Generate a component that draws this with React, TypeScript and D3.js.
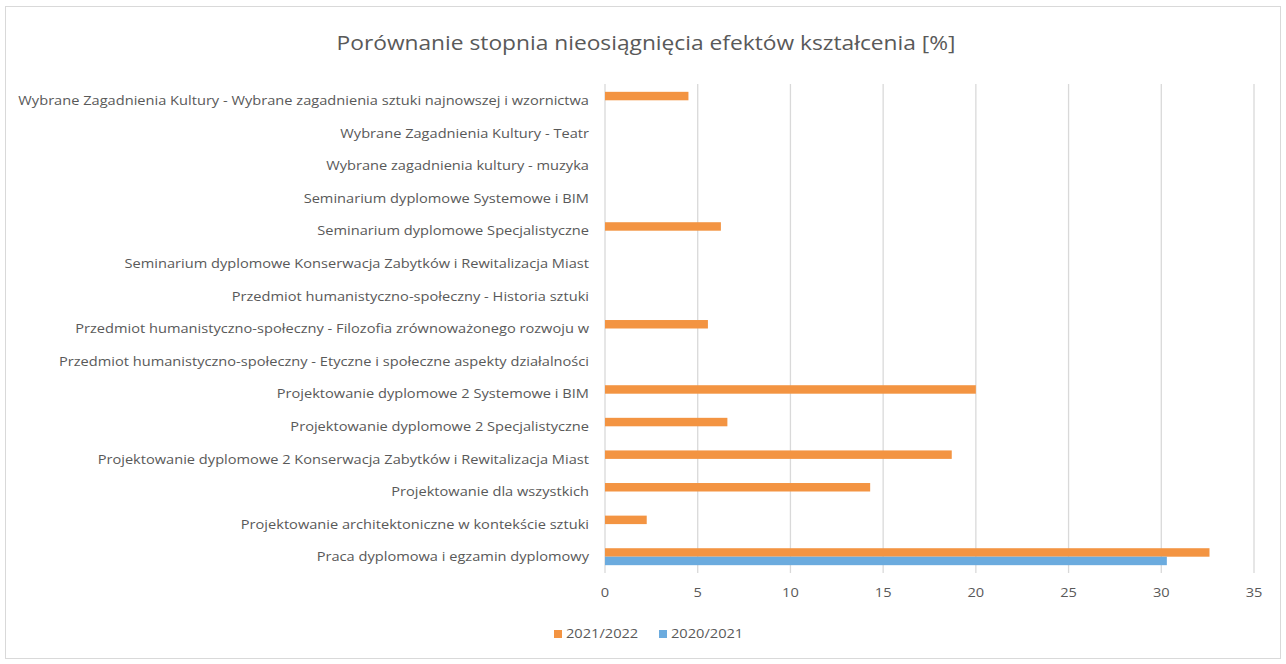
import React from "react";
import * as d3 from "d3";

const categories = [
  "Wybrane Zagadnienia Kultury - Wybrane zagadnienia sztuki najnowszej i wzornictwa",
  "Wybrane Zagadnienia Kultury - Teatr",
  "Wybrane zagadnienia kultury - muzyka",
  "Seminarium dyplomowe Systemowe i BIM",
  "Seminarium dyplomowe Specjalistyczne",
  "Seminarium dyplomowe Konserwacja Zabytków i Rewitalizacja Miast",
  "Przedmiot humanistyczno-społeczny - Historia sztuki",
  "Przedmiot humanistyczno-społeczny - Filozofia zrównoważonego rozwoju w",
  "Przedmiot humanistyczno-społeczny - Etyczne i społeczne aspekty działalności",
  "Projektowanie dyplomowe 2 Systemowe i BIM",
  "Projektowanie dyplomowe 2 Specjalistyczne",
  "Projektowanie dyplomowe 2 Konserwacja Zabytków i Rewitalizacja Miast",
  "Projektowanie dla wszystkich",
  "Projektowanie architektoniczne w kontekście sztuki",
  "Praca dyplomowa i egzamin dyplomowy",
];

const series = ["2021/2022", "2020/2021"];
const values2122 = [4.5, 0, 0, 0, 6.25, 0, 0, 5.55, 0, 20, 6.6, 18.7, 14.3, 2.25, 32.6];
const values2021 = [0, 0, 0, 0, 0, 0, 0, 0, 0, 0, 0, 0, 0, 0, 30.3];
const colors = ["#F39442", "#6BABDE"];
const xTicks = [0, 5, 10, 15, 20, 25, 30, 35];
const title = "Porównanie stopnia nieosiągnięcia efektów kształcenia [%]";

const W = 1286;
const H = 664;
const FONT = "'Open Sans', sans-serif";
const TXT = "#595959";

function SText({
  x,
  y,
  size,
  sx,
  anchor,
  children,
}: {
  x: number;
  y: number;
  size: number;
  sx: number;
  anchor: "start" | "middle" | "end";
  children: React.ReactNode;
}) {
  return (
    <g transform={`translate(${x},${y}) scale(${sx},1)`}>
      <text
        x={0}
        y={0}
        textAnchor={anchor}
        dominantBaseline="middle"
        fontFamily={FONT}
        fontSize={size}
        fill={TXT}
      >
        {children}
      </text>
    </g>
  );
}

export default function App() {
  const left = 605;
  const right = 1254;
  const top = 84;
  const bottom = 573;
  const x = d3.scaleLinear().domain([0, 35]).range([left, right]);
  const y = d3
    .scaleBand<string>()
    .domain(categories)
    .range([top, bottom])
    .paddingInner(0.48)
    .paddingOuter(0.24);
  const ys = d3.scaleBand<string>().domain(series).range([0, y.bandwidth()]);
  const data = [values2122, values2021];
  const LS = 13;
  const LSX = 1.125;

  return (
    <svg
      width={W}
      height={H}
      style={{ position: "absolute", left: 0, top: 0, background: "#fff" }}
    >
      <rect x={5.5} y={6.5} width={1275} height={652} fill="#fff" stroke="#d9d9d9" strokeWidth={1} />
      <SText x={646} y={45} size={20.5} sx={1.11} anchor="middle">
        {title}
      </SText>
      {xTicks.map((t) => (
        <line
          key={"g" + t}
          x1={x(t)}
          x2={x(t)}
          y1={top}
          y2={bottom}
          stroke="#d9d9d9"
          strokeWidth={1.3}
        />
      ))}
      {xTicks.map((t) => (
        <SText key={"t" + t} x={x(t)} y={594} size={LS} sx={LSX} anchor="middle">
          {t}
        </SText>
      ))}
      {categories.map((c) => (
        <SText
          key={"l" + c}
          x={589}
          y={(y(c) ?? 0) + y.bandwidth() / 2 + 1.2}
          size={LS}
          sx={LSX}
          anchor="end"
        >
          {c}
        </SText>
      ))}
      {series.map((s, si) =>
        categories.map((c, ci) => {
          const v = data[si][ci];
          if (!v) return null;
          return (
            <rect
              key={s + c}
              x={x(0)}
              y={(y(c) ?? 0) + (ys(s) ?? 0)}
              width={x(v) - x(0)}
              height={ys.bandwidth()}
              fill={colors[si]}
            />
          );
        })
      )}
      {(() => {
        const pos = [554, 659];
        return series.map((s, si) => (
          <g key={"lg" + s}>
            <rect x={pos[si]} y={630} width={8} height={8} fill={colors[si]} />
            <SText x={pos[si] + 12} y={634.5} size={LS} sx={LSX} anchor="start">
              {s}
            </SText>
          </g>
        ));
      })()}
    </svg>
  );
}
